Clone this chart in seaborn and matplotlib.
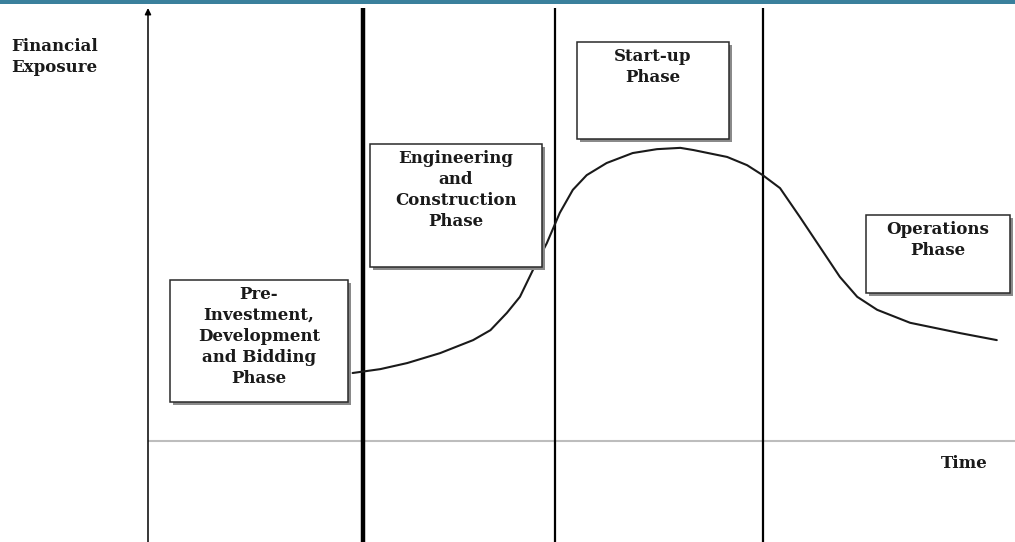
import numpy as np
import pandas as pd
import matplotlib
matplotlib.use("Agg")
import matplotlib.pyplot as plt
from matplotlib.patches import Rectangle
import seaborn as sns

# Financial exposure over the project life (time and exposure on a 0-100 scale)
time = [23.6, 26.8, 29.9, 33.7, 37.5, 39.5, 41.4, 42.9, 44.4, 46.0, 47.5, 49.0,
        50.6, 52.9, 55.9, 58.7, 61.4, 62.9, 66.8, 69.1, 70.9, 72.9, 75.2, 77.5,
        79.8, 81.8, 84.1, 87.9, 93.7, 97.9]
exposure = [15.7, 16.6, 18.0, 20.3, 23.3, 25.6, 29.6, 33.3, 39.5, 45.7, 52.7, 58.0,
            61.4, 64.2, 66.5, 67.4, 67.7, 67.2, 65.6, 63.7, 61.4, 58.4, 51.7, 44.8,
            37.9, 33.3, 30.3, 27.3, 24.9, 23.3]

# boundaries between phases
phase_bounds = [24.8, 46.9, 70.9]
bound_widths = [3.2, 1.6, 1.6]

phase_labels = ["Pre-\nInvestment,\nDevelopment\nand Bidding\nPhase",
                "Engineering\nand\nConstruction\nPhase",
                "Start-up\nPhase",
                "Operations\nPhase"]

# label boxes (left, right, bottom, top) in chart units
box_left = [2.5, 25.6, 49.5, 82.8]
box_right = [23.1, 45.4, 67.0, 99.4]
box_bottom = [9.0, 40.2, 69.7, 34.2]
box_top = [37.2, 68.6, 92.1, 52.2]

df = pd.DataFrame({"time": time, "exposure": exposure})

sns.set_theme(style="white")
plt.rcParams["font.family"] = ["DejaVu Serif"]

fig = plt.figure(figsize=(10.15, 5.42), dpi=100)
ax = fig.add_axes([0, 0, 1, 1])
ax.set_xlim(-17.07, 100)
ax.set_ylim(-23.33, 101.85)
ax.axis("off")

# teal rule at the very top
ax.add_patch(Rectangle((0, 0.992), 1, 0.008, transform=ax.transAxes,
                       color="#3a809c", lw=0, clip_on=False))

# time axis (gray) and exposure axis (arrow)
ax.hlines(0, 0, 100, color="#bdbdbd", lw=1.5, zorder=1)
ax.annotate("", xy=(0, 100), xytext=(0, -23.33),
            arrowprops=dict(arrowstyle="-|>", color="black", lw=1.1,
                            mutation_scale=9, shrinkA=0, shrinkB=0))

# phase boundaries
for b, w in zip(phase_bounds, bound_widths):
    ax.vlines(b, -23.33, 100, color="black", lw=w, zorder=2)

# exposure curve
sns.lineplot(data=df, x="time", y="exposure", ax=ax, color="#1a1a1a",
             lw=1.5, zorder=3)
ax.lines[-1].set_solid_joinstyle("round")
ax.set_xlabel("")
ax.set_ylabel("")

# phase boxes with drop shadow
dx, dy = 0.35, 0.7
for lab, l, r, b, t in zip(phase_labels, box_left, box_right, box_bottom, box_top):
    ax.add_patch(Rectangle((l + dx, b - dy), r - l, t - b, facecolor="#8a8a8a",
                           edgecolor="none", zorder=4))
    ax.add_patch(Rectangle((l, b), r - l, t - b, facecolor="white",
                           edgecolor="#2a2a2a", lw=1.1, zorder=5))
    ax.text((l + r) / 2, t - 1.4, lab, ha="center", va="top", fontsize=12,
            fontweight="bold", linespacing=1.3, color="#1a1a1a", zorder=6)

ax.text(-15.8, 93.0, "Financial\nExposure", ha="left", va="top", fontsize=12,
        fontweight="bold", linespacing=1.3, color="#1a1a1a")
ax.text(94.2, -5.1, "Time", ha="center", va="center", fontsize=12,
        fontweight="bold", color="#1a1a1a")

plt.savefig("out.png", dpi=100)
